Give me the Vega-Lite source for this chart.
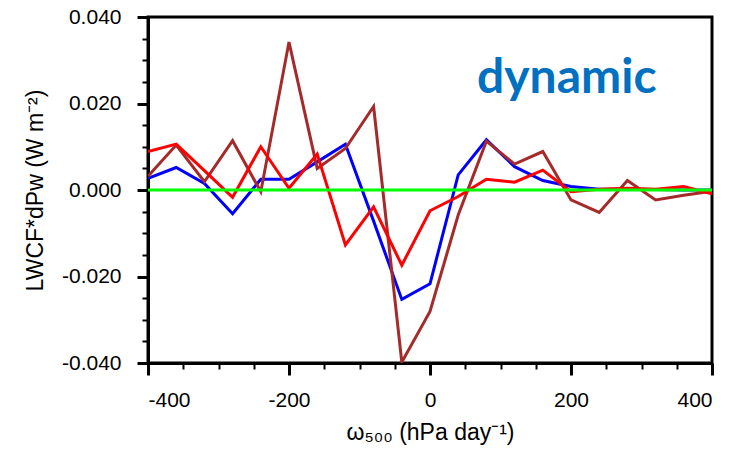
{
  "$schema": "https://vega.github.io/schema/vega-lite/v6.json",
  "width": 564,
  "height": 346,
  "autosize": {"type": "none"},
  "padding": {"left": 148, "top": 17, "right": 23, "bottom": 97},
  "background": "white",
  "config": {
    "view": {"stroke": "black", "strokeWidth": 3},
    "font": "Liberation Sans"
  },
  "datasets": {
    "lines": [
      {"series": "blue", "omega": -400, "v": 0.0027},
      {"series": "blue", "omega": -360, "v": 0.0052},
      {"series": "blue", "omega": -320, "v": 0.0015},
      {"series": "blue", "omega": -280, "v": -0.0055},
      {"series": "blue", "omega": -240, "v": 0.0025},
      {"series": "blue", "omega": -200, "v": 0.0025},
      {"series": "blue", "omega": -160, "v": 0.0065},
      {"series": "blue", "omega": -120, "v": 0.0106},
      {"series": "blue", "omega": -80, "v": -0.0072},
      {"series": "blue", "omega": -40, "v": -0.0253},
      {"series": "blue", "omega": 0, "v": -0.0217},
      {"series": "blue", "omega": 40, "v": 0.0035},
      {"series": "blue", "omega": 80, "v": 0.0116},
      {"series": "blue", "omega": 120, "v": 0.0054},
      {"series": "blue", "omega": 160, "v": 0.0022},
      {"series": "blue", "omega": 200, "v": 0.0008},
      {"series": "blue", "omega": 240, "v": 0.0002},
      {"series": "blue", "omega": 280, "v": 0.0002},
      {"series": "blue", "omega": 320, "v": 0.0001},
      {"series": "blue", "omega": 360, "v": 0.0},
      {"series": "blue", "omega": 400, "v": 0.0},
      {"series": "brown", "omega": -400, "v": 0.0032},
      {"series": "brown", "omega": -360, "v": 0.0104},
      {"series": "brown", "omega": -320, "v": 0.0019},
      {"series": "brown", "omega": -280, "v": 0.0114},
      {"series": "brown", "omega": -240, "v": -0.0004},
      {"series": "brown", "omega": -200, "v": 0.0342},
      {"series": "brown", "omega": -160, "v": 0.005},
      {"series": "brown", "omega": -120, "v": 0.0096},
      {"series": "brown", "omega": -80, "v": 0.0193},
      {"series": "brown", "omega": -40, "v": -0.0398},
      {"series": "brown", "omega": 0, "v": -0.0281},
      {"series": "brown", "omega": 40, "v": -0.0058},
      {"series": "brown", "omega": 80, "v": 0.0113},
      {"series": "brown", "omega": 120, "v": 0.006},
      {"series": "brown", "omega": 160, "v": 0.0089},
      {"series": "brown", "omega": 200, "v": -0.0023},
      {"series": "brown", "omega": 240, "v": -0.0052},
      {"series": "brown", "omega": 280, "v": 0.0022},
      {"series": "brown", "omega": 320, "v": -0.0023},
      {"series": "brown", "omega": 360, "v": -0.0012},
      {"series": "brown", "omega": 400, "v": -0.0003},
      {"series": "red", "omega": -400, "v": 0.0089},
      {"series": "red", "omega": -360, "v": 0.0106},
      {"series": "red", "omega": -320, "v": 0.0045},
      {"series": "red", "omega": -280, "v": -0.0017},
      {"series": "red", "omega": -240, "v": 0.01},
      {"series": "red", "omega": -200, "v": 0.0004},
      {"series": "red", "omega": -160, "v": 0.0083},
      {"series": "red", "omega": -120, "v": -0.0127},
      {"series": "red", "omega": -80, "v": -0.0039},
      {"series": "red", "omega": -40, "v": -0.0174},
      {"series": "red", "omega": 0, "v": -0.0048},
      {"series": "red", "omega": 40, "v": -0.0015},
      {"series": "red", "omega": 80, "v": 0.0025},
      {"series": "red", "omega": 120, "v": 0.0018},
      {"series": "red", "omega": 160, "v": 0.0046},
      {"series": "red", "omega": 200, "v": -0.0004},
      {"series": "red", "omega": 240, "v": 0.0002},
      {"series": "red", "omega": 280, "v": 0.0004},
      {"series": "red", "omega": 320, "v": 0.0002},
      {"series": "red", "omega": 360, "v": 0.0008},
      {"series": "red", "omega": 400, "v": -0.0009},
      {"series": "zero", "omega": -400, "v": 0.0},
      {"series": "zero", "omega": 400, "v": 0.0}
    ],
    "label": [
      {"text": "dynamic", "omega": 194, "v": 0.0224}
    ]
  },
  "resolve": {"axis": {"x": "independent", "y": "independent"}},
  "layer": [
    {
      "data": {"name": "lines"},
      "mark": {"type": "line", "strokeWidth": 3, "clip": true},
      "encoding": {
        "x": {
          "field": "omega", "type": "quantitative",
          "scale": {"domain": [-400, 400], "nice": false, "zero": false},
          "axis": {
            "orient": "bottom",
            "values": [-400, -200, 0, 200, 400],
            "labelExpr": "replace(format(datum.value, 'd'), /\u2212/, '-')",
            "grid": false,
            "domainColor": "black", "domainWidth": 3,
            "tickColor": "black", "tickWidth": 3, "tickSize": 12,
            "labelColor": "black", "labelFontSize": 21, "labelPadding": 14,
            "labelFont": "Liberation Sans",
            "title": "ω₅₀₀ (hPa day⁻¹)",
            "titleFont": "Liberation Sans", "titleFontSize": 23, "titleFontWeight": "normal",
            "titleColor": "black", "titlePadding": 11
          }
        },
        "y": {
          "field": "v", "type": "quantitative",
          "scale": {"domain": [-0.04, 0.04], "nice": false, "zero": false},
          "axis": {
            "orient": "left",
            "values": [-0.04, -0.02, 0, 0.02, 0.04],
            "labelExpr": "replace(format(datum.value, '.3f'), /\u2212/, '-')",
            "grid": false,
            "domainColor": "black", "domainWidth": 3,
            "tickColor": "black", "tickWidth": 3, "tickSize": 11,
            "labelColor": "black", "labelFontSize": 21, "labelPadding": 16,
            "labelFont": "Liberation Sans",
            "title": "LWCF*dPw (W m⁻²)",
            "titleFont": "Liberation Sans", "titleFontSize": 23, "titleFontWeight": "normal",
            "titleColor": "black", "titlePadding": 14
          }
        },
        "color": {
          "field": "series", "type": "nominal",
          "scale": {"domain": ["blue", "brown", "red", "zero"], "range": ["#0000FF", "#A52A2A", "#FF0000", "#00FF00"]},
          "legend": null
        }
      }
    },
    {
      "data": {"name": "lines"},
      "mark": {"type": "point", "opacity": 0, "size": 0},
      "encoding": {
        "x": {
          "field": "omega", "type": "quantitative",
          "axis": {
            "orient": "bottom",
            "values": [-350, -300, -250, -150, -100, -50, 50, 100, 150, 250, 300, 350],
            "labels": false, "domain": false, "grid": false, "title": null,
            "tickColor": "black", "tickWidth": 2, "tickSize": 6
          }
        },
        "y": {
          "field": "v", "type": "quantitative",
          "axis": {
            "orient": "left",
            "values": [-0.035, -0.03, -0.025, -0.015, -0.01, -0.005, 0.005, 0.01, 0.015, 0.025, 0.03, 0.035],
            "labels": false, "domain": false, "grid": false, "title": null,
            "tickColor": "black", "tickWidth": 2, "tickSize": 6
          }
        }
      }
    },
    {
      "data": {"name": "label"},
      "mark": {"type": "text", "font": "Lato", "fontWeight": "bold", "fontSize": 48, "color": "#0070C0", "align": "center", "baseline": "alphabetic"},
      "encoding": {
        "x": {"field": "omega", "type": "quantitative", "axis": null},
        "y": {"field": "v", "type": "quantitative", "axis": null},
        "text": {"field": "text"}
      }
    }
  ]
}
